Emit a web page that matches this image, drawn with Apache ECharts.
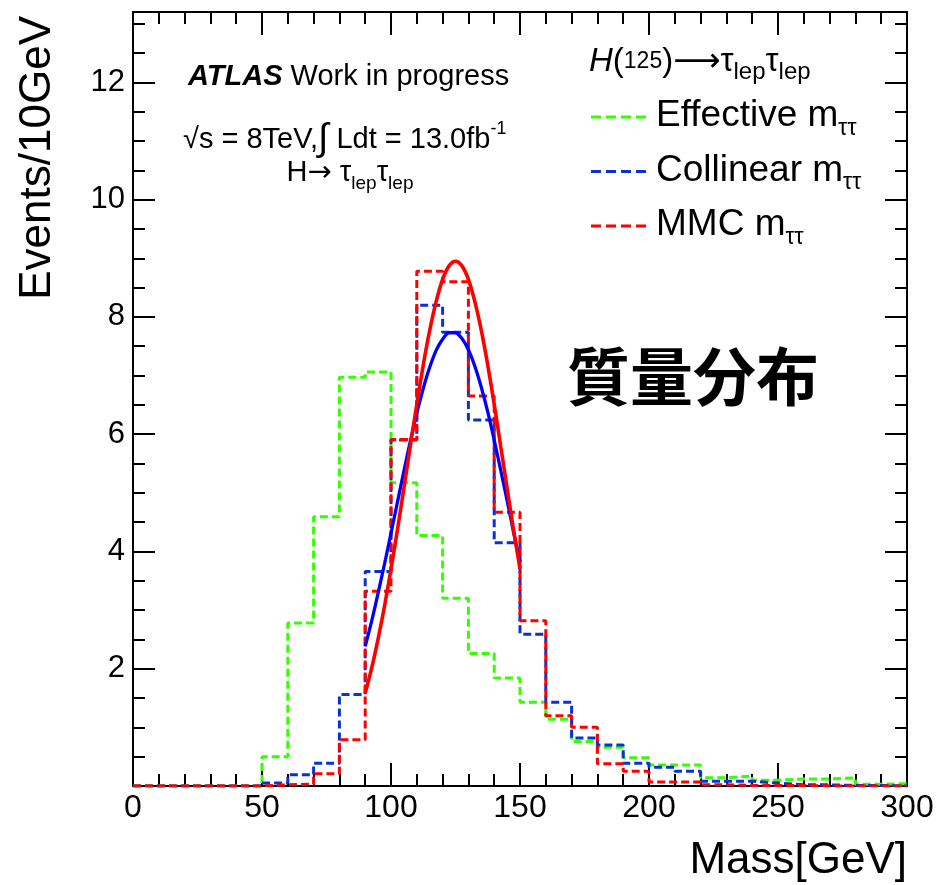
<!DOCTYPE html>
<html>
<head>
<meta charset="utf-8">
<script src="https://cdn.jsdelivr.net/npm/echarts@6/dist/echarts.min.js"></script>
<style>
  html, body { margin: 0; padding: 0; background: #ffffff; }
  #chart { width: 938px; height: 885px; }
</style>
</head>
<body>
<div id="chart"></div>
<script>
// Lower edges of the 10 GeV mass bins (last entry closes the final bin)
const binEdges = [0, 10, 20, 30, 40, 50, 60, 70, 80, 90, 100, 110, 120, 130, 140, 150,
                  160, 170, 180, 190, 200, 210, 220, 230, 240, 250, 260, 270, 280, 290, 300];

// Events per 10 GeV for each reconstruction method
const effectiveMtt = [0, 0, 0, 0, 0, 0.50, 2.78, 4.59, 6.97, 7.06, 5.17, 4.27, 3.20, 2.26, 1.84,
                      1.43, 1.14, 0.76, 0.66, 0.48, 0.36, 0.36, 0.14, 0.17, 0.10, 0.12, 0.12, 0.14, 0.03, 0.04];
const collinearMtt = [0, 0, 0, 0, 0, 0.05, 0.19, 0.39, 1.56, 3.66, 5.90, 8.20, 7.74, 6.24, 4.15,
                      2.59, 1.43, 0.82, 0.70, 0.39, 0.32, 0.25, 0.08, 0.08, 0.05, 0.02, 0.02, 0.01, 0.01, 0.0];
const mmcMtt       = [0, 0, 0, 0, 0, 0.02, 0.03, 0.21, 0.79, 3.32, 5.91, 8.78, 8.60, 6.65, 4.67,
                      2.82, 1.20, 1.00, 0.38, 0.25, 0.07, 0.07, 0.02, 0.01, 0.01, 0.01, 0.0, 0.0, 0.0, 0.0];

// Gaussian fit curves over the 90-150 GeV window, sampled every 2.5 GeV
const fitMass      = [90, 92.5, 95, 97.5, 100, 102.5, 105, 107.5, 110, 112.5, 115, 117.5, 120,
                      122.5, 125, 127.5, 130, 132.5, 135, 137.5, 140, 142.5, 145, 147.5, 150];
const collinearFit = [2.38, 2.81, 3.29, 3.79, 4.31, 4.84, 5.37, 5.88, 6.36, 6.78, 7.14, 7.43, 7.62,
                      7.73, 7.73, 7.63, 7.44, 7.16, 6.80, 6.38, 5.90, 5.39, 4.87, 4.33, 3.81];
const mmcFit       = [1.58, 2.01, 2.51, 3.07, 3.70, 4.37, 5.08, 5.80, 6.51, 7.18, 7.77, 8.26, 8.64,
                      8.87, 8.95, 8.87, 8.64, 8.26, 7.77, 7.18, 6.51, 5.80, 5.08, 4.37, 3.70];

const xTicks = { min: 0, max: 300, interval: 50 };
const yTicks = { min: 0, max: 13.2, interval: 2 };

const FONT = 'Liberation Sans, Arial, Helvetica, sans-serif';
const C_GREEN = '#33ff00';
const C_BLUE_H = '#0a32d2';
const C_RED = '#ff0000';
const C_BLUE_FIT = '#0000ff';

// Turn bin contents into step-line points: one point per lower edge plus the closing edge
function stepPoints(values) {
  return binEdges.map((e, i) => [e, values[Math.min(i, values.length - 1)]]);
}
function curvePoints(xs, ys) {
  return xs.map((x, i) => [x, ys[i]]);
}

const axisLineStyle = { color: '#000', width: 2 };
function makeX(position, showLabels) {
  return {
    type: 'value', position: position, min: xTicks.min, max: xTicks.max, interval: xTicks.interval,
    axisLine: { show: true, onZero: false, lineStyle: axisLineStyle },
    axisTick: { show: true, inside: true, length: 23, lineStyle: { color: '#000', width: 2 } },
    minorTick: { show: true, splitNumber: 5, length: 12, lineStyle: { color: '#000', width: 2 } },
    splitLine: { show: false },
    axisLabel: { show: showLabels, color: '#000', fontSize: 32, fontFamily: FONT, margin: 6 }
  };
}
function makeY(position, showLabels) {
  return {
    type: 'value', position: position, min: yTicks.min, max: yTicks.max, interval: yTicks.interval,
    axisLine: { show: true, onZero: false, lineStyle: axisLineStyle },
    axisTick: { show: true, inside: true, length: 22, lineStyle: { color: '#000', width: 2 } },
    minorTick: { show: true, splitNumber: 4, length: 12, lineStyle: { color: '#000', width: 2 } },
    splitLine: { show: false },
    axisLabel: {
      show: showLabels, color: '#000', fontSize: 31, fontFamily: FONT, margin: 8,
      showMaxLabel: false, showMinLabel: false,
      formatter: v => (v === 0 ? '' : String(v))
    }
  };
}

function histSeries(name, values, color) {
  return {
    name: name, type: 'line', step: 'end', data: stepPoints(values),
    xAxisIndex: 0, yAxisIndex: 0, symbol: 'none', silent: true,
    lineStyle: { color: color, width: 3, type: [8, 4] }
  };
}
function fitSeries(name, values, color, width) {
  return {
    name: name, type: 'line', smooth: 0.3, data: curvePoints(fitMass, values),
    xAxisIndex: 0, yAxisIndex: 0, symbol: 'none', silent: true,
    lineStyle: { color: color, width: width }
  };
}

// Legend rows: dashed sample line + label with subscript
const legendRows = [
  { label: 'Effective m', color: C_GREEN, y: 117 },
  { label: 'Collinear m', color: C_BLUE_H, y: 171.5 },
  { label: 'MMC m', color: C_RED, y: 226 }
];

const subRich = {
  n:   { fontSize: 37, fontFamily: FONT, color: '#000', lineHeight: 48 },
  sub: { fontSize: 23, fontFamily: FONT, color: '#000', lineHeight: 20, verticalAlign: 'bottom' }
};

const legendElements = [];
legendRows.forEach(r => {
  legendElements.push({
    type: 'line', silent: true,
    shape: { x1: 591, y1: r.y, x2: 646, y2: r.y },
    style: { stroke: r.color, lineWidth: 2.8, lineDash: [10, 5] }
  });
  legendElements.push({
    type: 'text', silent: true, x: 656, y: r.y - 1,
    style: {
      text: '{n|' + r.label + '}{sub|ττ}', rich: subRich,
      align: 'left', verticalAlign: 'middle'
    }
  });
});

const infoRich = {
  b:   { fontSize: 29, fontFamily: FONT, fontWeight: 'bold', fontStyle: 'italic', color: '#000', lineHeight: 40 },
  n:   { fontSize: 29, fontFamily: FONT, color: '#000', lineHeight: 40 },
  big: { fontSize: 38, fontFamily: FONT, color: '#000', lineHeight: 40 },
  sup: { fontSize: 18, fontFamily: FONT, color: '#000', lineHeight: 20, verticalAlign: 'top' },
  sub: { fontSize: 19, fontFamily: FONT, color: '#000', lineHeight: 18, verticalAlign: 'bottom' },
  arr: { fontSize: 29, fontFamily: 'DejaVu Sans, sans-serif', color: '#000', lineHeight: 40 },
  it:  { fontSize: 33, fontFamily: FONT, fontStyle: 'italic', color: '#000', lineHeight: 44 },
  h:   { fontSize: 33, fontFamily: FONT, color: '#000', lineHeight: 44 },
  harr:{ fontSize: 33, fontFamily: 'DejaVu Sans, sans-serif', color: '#000', lineHeight: 44 },
  sm:  { fontSize: 23, fontFamily: FONT, color: '#000', lineHeight: 44 },
  hsub:{ fontSize: 24, fontFamily: FONT, color: '#000', lineHeight: 20, verticalAlign: 'bottom' }
};

const option = {
  animation: false,
  backgroundColor: '#ffffff',
  grid: { left: 133, right: 31, top: 12, bottom: 99, containLabel: false },
  xAxis: [makeX('bottom', true), makeX('top', false)],
  yAxis: [makeY('left', true), makeY('right', false)],
  series: [
    histSeries('Effective', effectiveMtt, C_GREEN),
    histSeries('Collinear', collinearMtt, C_BLUE_H),
    histSeries('MMC', mmcMtt, C_RED),
    fitSeries('Collinear fit', collinearFit, C_BLUE_FIT, 3.3),
    fitSeries('MMC fit', mmcFit, C_RED, 3.6)
  ],
  graphic: { elements: [
    // axis titles
    { type: 'text', silent: true, x: 907, y: 861,
      style: { text: 'Mass[GeV]', fontSize: 44, fontFamily: FONT, fill: '#000', align: 'right', verticalAlign: 'middle' } },
    { type: 'text', silent: true, x: 38, y: 16, rotation: Math.PI / 2,
      style: { text: 'Events/10GeV', fontSize: 44, fontFamily: FONT, fill: '#000', align: 'right', verticalAlign: 'middle' } },
    // experiment labels
    { type: 'text', silent: true, x: 188, y: 77,
      style: { text: '{b|ATLAS}{n| Work in progress}', rich: infoRich, align: 'left', verticalAlign: 'middle' } },
    { type: 'text', silent: true, x: 183, y: 140,
      style: { text: '{n|√s = 8TeV,}{big|∫}{n| Ldt = 13.0fb}{sup|-1}', rich: infoRich, align: 'left', verticalAlign: 'middle' } },
    { type: 'text', silent: true, x: 350, y: 173,
      style: { text: '{n|H}{arr|→}{n| τ}{sub|lep}{n|τ}{sub|lep}', rich: infoRich, align: 'center', verticalAlign: 'middle' } },
    // legend header
    { type: 'text', silent: true, x: 589, y: 62,
      style: { text: '{it|H}{h|(}{sm|125}{h|)}{harr|⟶}{h|τ}{hsub|lep}{h|τ}{hsub|lep}', rich: infoRich, align: 'left', verticalAlign: 'middle' } },
    ...legendElements,
    // large caption
    { type: 'text', silent: true, x: 693, y: 376,
      style: { text: '質量分布', fontSize: 63, fontWeight: 'bold', fontFamily: '"Noto Sans CJK JP", "Noto Sans CJK SC", sans-serif',
               fill: '#000', align: 'center', verticalAlign: 'middle' } }
  ] }
};

const chart = echarts.init(document.getElementById('chart'), null, { renderer: 'canvas' });
chart.setOption(option);
</script>
</body>
</html>
